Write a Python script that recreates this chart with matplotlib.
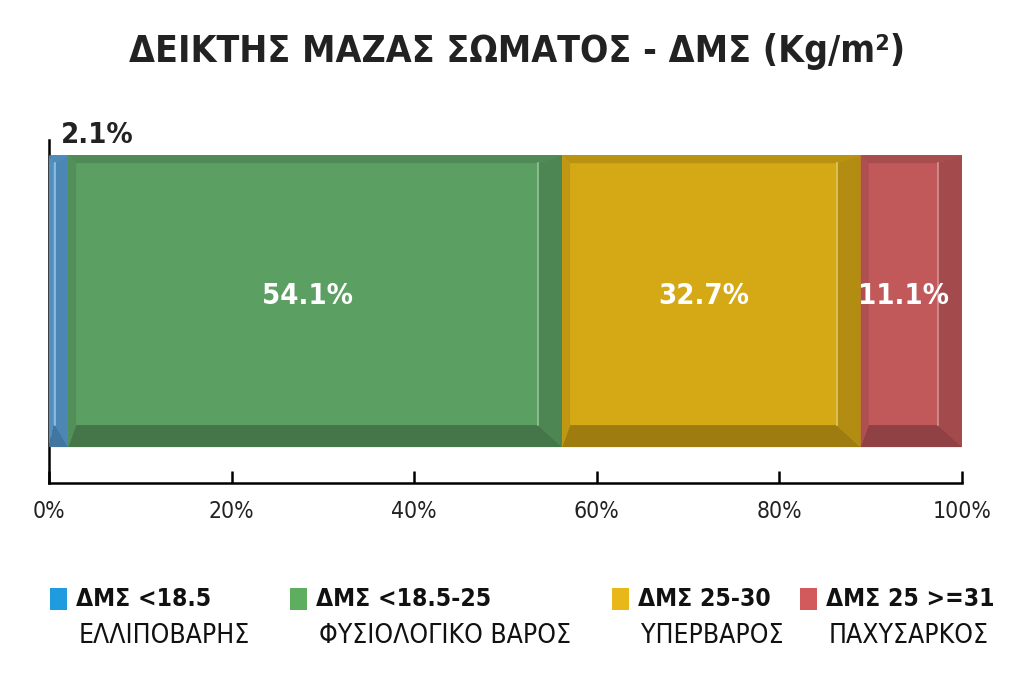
import matplotlib
matplotlib.use("Agg")
import matplotlib.pyplot as plt
from matplotlib.patches import Polygon, Rectangle
import numpy as np

categories = ["ΔΜΣ <18.5", "ΔΜΣ <18.5-25", "ΔΜΣ 25-30", "ΔΜΣ 25 >=31"]
subtitles = ["ΕΛΛΙΠΟΒΑΡΗΣ", "ΦΥΣΙΟΛΟΓΙΚΟ ΒΑΡΟΣ", "ΥΠΕΡΒΑΡΟΣ", "ΠΑΧΥΣΑΡΚΟΣ"]
values = [2.1, 54.1, 32.7, 11.1]
labels = ["2.1%", "54.1%", "32.7%", "11.1%"]
ticks = [0, 20, 40, 60, 80, 100]
tick_labels = ["0%", "20%", "40%", "60%", "80%", "100%"]

face = ["#5a9fd6", "#5c9f63", "#d5a815", "#c1585a"]
legend_col = ["#1f9be0", "#5fae5f", "#e8b71a", "#d25a5c"]

def shade(c, f):
    r, g, b = matplotlib.colors.to_rgb(c)
    if f < 1:
        return (r * f, g * f, b * f)
    return (r + (1 - r) * (f - 1), g + (1 - g) * (f - 1), b + (1 - b) * (f - 1))

FONT = "DejaVu Sans"
plt.rcParams['font.family'] = [FONT]
CS = "condensed"

fig = plt.figure(figsize=(10.24, 6.86), dpi=100)
ax = fig.add_axes([49/1024, 1 - 483/686, 913/1024, 343/686])
ax.set_xlim(0, 100)
ylo, yhi = -0.623, 0.552
ax.set_ylim(ylo, yhi)

# pixel-to-data scale
pxx = 100 / 913.0
pxy = (yhi - ylo) / 343.0

left = 0.0
for i, v in enumerate(values):
    x0, x1 = left, left + v
    y0, y1 = -0.5, 0.5
    ax.barh([0], [v], left=[left], height=1.0, color=face[i], edgecolor="none", zorder=2)
    lw, rw, tw, bw = 8 * pxx, 24 * pxx, 8 * pxy, 22 * pxy
    w = x1 - x0
    if lw + rw > w * 0.9:
        s = w * 0.9 / (lw + rw)
        lw *= s; rw *= s
    ix0, ix1, iy0, iy1 = x0 + lw, x1 - rw, y0 + bw, y1 - tw
    c = face[i]
    polys = [
        ([(x0, y1), (x1, y1), (ix1, iy1), (ix0, iy1)], shade(c, 0.87)),  # top
        ([(x0, y0), (x1, y0), (ix1, iy0), (ix0, iy0)], shade(c, 0.74)),  # bottom
        ([(x0, y0), (x0, y1), (ix0, iy1), (ix0, iy0)], shade(c, 0.90)),  # left
        ([(x1, y0), (x1, y1), (ix1, iy1), (ix1, iy0)], shade(c, 0.84)),  # right
    ]
    for pts, col in polys:
        ax.add_patch(Polygon(pts, closed=True, facecolor=col, edgecolor="none", zorder=3))
    ax.plot([ix1, ix1], [iy0, iy1], color=shade(c, 1.35), lw=1.2, zorder=4)
    cx = (ix0 + ix1) / 2
    if i == 0:
        ax.text(x0 + 1.3, y1 + 0.02, labels[i], ha="left", va="bottom", fontsize=21,
                fontweight="bold", color="#222222", fontstretch=CS, zorder=5)
    else:
        ax.text(cx, 0.017, labels[i], ha="center", va="center", fontsize=21,
                fontweight="bold", color="white", fontstretch=CS, zorder=5)
    left += v

for s in ["top", "right"]:
    ax.spines[s].set_visible(False)
ax.spines["left"].set_linewidth(1.8)
ax.spines["bottom"].set_linewidth(1.8)
ax.spines["left"].set_bounds(ylo, yhi)
ax.set_yticks([])
ax.set_xticks(ticks)
ax.set_xticklabels(tick_labels, fontsize=16.5, color="#222222", fontstretch=CS)
ax.tick_params(axis="x", direction="in", length=9, width=1.8, pad=12)
ax.set_facecolor("white")

fig.text(517/1024, 1 - 51/686, "ΔΕΙΚΤΗΣ ΜΑΖΑΣ ΣΩΜΑΤΟΣ - ΔΜΣ (Kg/m²)", ha="center", va="center",
         fontsize=26.8, fontweight="bold", color="#222222", fontstretch=CS)

# legend
lx = [50, 290, 612, 800]
for i in range(4):
    fig.patches.append(Rectangle((lx[i] / 1024, 1 - 610/686), 17/1024, 22/686,
                                 transform=fig.transFigure, facecolor=legend_col[i],
                                 edgecolor="none"))
    fig.text((lx[i] + 26) / 1024, 1 - 599/686, categories[i], ha="left", va="center",
             fontsize=17.7, fontweight="bold", color="#111111", fontstretch=CS)
    fig.text((lx[i] + 29) / 1024, 1 - 636/686, subtitles[i], ha="left", va="center",
             fontsize=19, color="#111111", fontstretch=CS)

fig.savefig("out.png", dpi=100, facecolor="white")
